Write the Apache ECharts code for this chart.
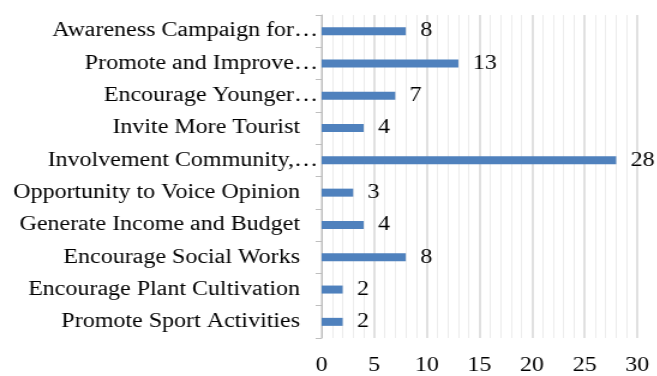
<!DOCTYPE html>
<html>
<head>
<meta charset="utf-8">
<script src="https://cdn.jsdelivr.net/npm/echarts@6/dist/echarts.min.js"></script>
<style>
  html, body { margin: 0; padding: 0; background: #fff; overflow: hidden; }
  /* the source picture is stretched sideways, so the chart is too */
  #chart { width: 547px; height: 376px; transform: scaleX(1.2); transform-origin: 0 0; }
</style>
</head>
<body>
<div id="chart"></div>
<script>
// categories from top to bottom
const categories = [
  'Awareness Campaign for…',
  'Promote and Improve…',
  'Encourage Younger…',
  'Invite More Tourist',
  'Involvement Community,…',
  'Opportunity to Voice Opinion',
  'Generate Income and Budget',
  'Encourage Social Works',
  'Encourage Plant Cultivation',
  'Promote Sport Activities'
]
const counts = [8, 13, 7, 4, 28, 3, 4, 8, 2, 2]
const xTicks = [0, 5, 10, 15, 20, 25, 30]

const font = 'Liberation Serif, Times New Roman, serif'
const chart = echarts.init(document.getElementById('chart'))

chart.setOption({
  animation: false,
  grid: { left: 268, right: 16, top: 15, bottom: 38 },
  xAxis: {
    type: 'value',
    min: xTicks[0],
    max: xTicks[xTicks.length - 1],
    interval: 5,
    minorTick: { show: false, splitNumber: 5 },
    minorSplitLine: { show: true, lineStyle: { color: '#ececec', width: 1 } },
    splitLine: { show: true, lineStyle: { color: '#d6d6d6', width: 1.5 } },
    axisLine: { show: false },
    axisTick: { show: false },
    axisLabel: { fontFamily: font, fontSize: 20, color: '#000', margin: 18 }
  },
  yAxis: {
    type: 'category',
    inverse: true,
    data: categories,
    axisLine: { show: true, lineStyle: { color: '#bfbfbf', width: 1 } },
    axisTick: { show: true, length: 5, lineStyle: { color: '#bfbfbf' } },
    axisLabel: {
      fontFamily: font,
      fontSize: 20,
      color: '#000',
      margin: 2,
      // truncated labels sit right against the axis, full ones leave a gap
      formatter: v => v.endsWith('…') ? '{cut|' + v + '}' : '{full|' + v + '}',
      rich: {
        cut: { fontFamily: font, fontSize: 20, color: '#000', padding: [0, 1, 0, 0] },
        full: { fontFamily: font, fontSize: 20, color: '#000', padding: [0, 16, 0, 0] }
      }
    }
  },
  series: [{
    type: 'bar',
    data: counts,
    barWidth: 8,
    itemStyle: { color: '#4f81bd' },
    label: {
      show: true,
      position: 'right',
      distance: 12,
      fontFamily: font,
      fontSize: 20,
      color: '#000'
    }
  }]
})
</script>
</body>
</html>
